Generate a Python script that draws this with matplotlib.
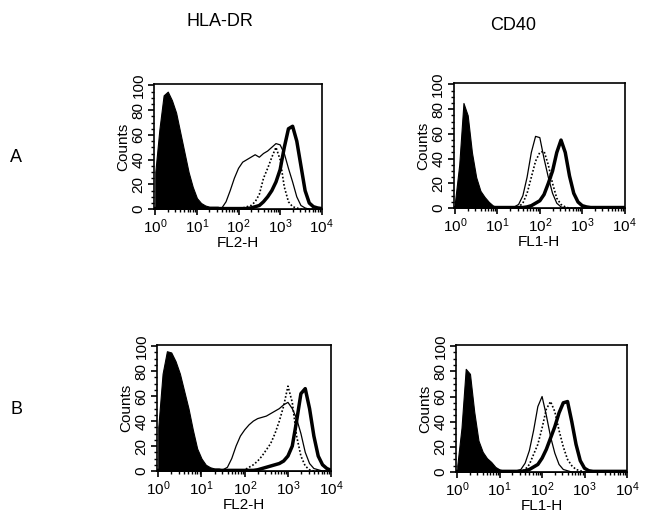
import numpy as np
import matplotlib
matplotlib.use("Agg")
import matplotlib.pyplot as plt
from matplotlib.ticker import MultipleLocator, LogLocator, NullFormatter

plt.rcParams['font.family'] = ['Liberation Sans', 'DejaVu Sans']

# log10 channel positions, 0.1-decade steps from 10^0 to 10^4
log_x = np.round(np.arange(0, 4.01, 0.1), 1)

def curve(points, base=0.0):
    """Build a series of 41 values from (log10 position: count) readings."""
    arr = np.full(len(log_x), base)
    for k, v in points.items():
        arr[int(round(k * 10))] = v
    return arr

# ---------- Row A, HLA-DR (FL2-H) ----------
A_hla_filled = curve({0.0: 30, 0.1: 65, 0.2: 92, 0.3: 95, 0.4: 88, 0.5: 78, 0.6: 62,
                      0.7: 46, 0.8: 30, 0.9: 18, 1.0: 9, 1.1: 5, 1.2: 3, 1.3: 2, 1.4: 2,
                      1.5: 2, 1.6: 1, 1.7: 1, 1.8: 1, 1.9: 1, 2.0: 1})
A_hla_thin = curve({1.6: 1, 1.7: 6, 1.8: 15, 1.9: 25, 2.0: 33, 2.1: 38, 2.2: 40, 2.3: 42,
                    2.4: 44, 2.5: 42, 2.6: 45, 2.7: 47, 2.8: 50, 2.9: 53, 3.0: 52, 3.1: 45,
                    3.2: 33, 3.3: 22, 3.4: 10, 3.5: 3, 3.6: 1})
A_hla_dotted = curve({2.0: 1, 2.1: 1, 2.2: 2, 2.3: 3, 2.4: 6, 2.5: 12, 2.6: 25, 2.7: 33,
                      2.8: 42, 2.9: 50, 3.0: 40, 3.1: 18, 3.2: 6, 3.3: 2, 3.4: 1})
A_hla_thick = curve({2.3: 1, 2.4: 2, 2.5: 3, 2.6: 6, 2.7: 10, 2.8: 15, 2.9: 22, 3.0: 32,
                     3.1: 50, 3.2: 65, 3.3: 67, 3.4: 55, 3.5: 35, 3.6: 15, 3.7: 5, 3.8: 2,
                     3.9: 1}, base=0.5)

# ---------- Row A, CD40 (FL1-H) ----------
A_cd40_filled = curve({0.0: 5, 0.1: 35, 0.2: 85, 0.3: 75, 0.4: 45, 0.5: 25, 0.6: 14,
                       0.7: 9, 0.8: 5, 0.9: 2, 1.0: 1, 1.1: 1, 1.2: 1, 1.3: 1, 1.4: 1})
A_cd40_thin = curve({1.4: 1, 1.5: 3, 1.6: 10, 1.7: 25, 1.8: 45, 1.9: 58, 2.0: 57, 2.1: 40,
                     2.2: 25, 2.3: 12, 2.4: 4, 2.5: 1})
A_cd40_dotted = curve({1.5: 1, 1.6: 4, 1.7: 12, 1.8: 25, 1.9: 38, 2.0: 45, 2.1: 46,
                       2.2: 35, 2.3: 20, 2.4: 8, 2.5: 3, 2.6: 1})
A_cd40_thick = curve({1.7: 1, 1.8: 2, 1.9: 4, 2.0: 6, 2.1: 11, 2.2: 20, 2.3: 30, 2.4: 45,
                      2.5: 55, 2.6: 45, 2.7: 26, 2.8: 12, 2.9: 5, 3.0: 2, 3.1: 1}, base=0.5)

# ---------- Row B, HLA-DR (FL2-H) ----------
B_hla_filled = curve({0.0: 35, 0.1: 78, 0.2: 96, 0.3: 95, 0.4: 88, 0.5: 78, 0.6: 64,
                      0.7: 50, 0.8: 33, 0.9: 18, 1.0: 10, 1.1: 5, 1.2: 3, 1.3: 2, 1.4: 2,
                      1.5: 1, 1.6: 1, 1.7: 1, 1.8: 1})
B_hla_thin = curve({1.5: 1, 1.6: 3, 1.7: 10, 1.8: 20, 1.9: 28, 2.0: 33, 2.1: 37, 2.2: 40,
                    2.3: 42, 2.4: 43, 2.5: 44, 2.6: 46, 2.7: 48, 2.8: 50, 2.9: 53, 3.0: 55,
                    3.1: 50, 3.2: 42, 3.3: 30, 3.4: 15, 3.5: 6, 3.6: 2, 3.7: 1})
B_hla_dotted = curve({2.0: 1, 2.1: 3, 2.2: 5, 2.3: 8, 2.4: 12, 2.5: 17, 2.6: 22, 2.7: 30,
                      2.8: 40, 2.9: 52, 3.0: 68, 3.1: 55, 3.2: 28, 3.3: 12, 3.4: 4, 3.5: 1})
B_hla_thick = curve({2.3: 1, 2.4: 2, 2.5: 3, 2.6: 4, 2.7: 5, 2.8: 6, 2.9: 8, 3.0: 12,
                     3.1: 20, 3.2: 40, 3.3: 62, 3.4: 66, 3.5: 50, 3.6: 28, 3.7: 12, 3.8: 5,
                     3.9: 2}, base=0.5)

# ---------- Row B, CD40 (FL1-H) ----------
B_cd40_filled = curve({0.0: 5, 0.1: 35, 0.2: 82, 0.3: 78, 0.4: 48, 0.5: 25, 0.6: 16,
                       0.7: 11, 0.8: 8, 0.9: 4, 1.0: 2, 1.1: 1, 1.2: 1, 1.3: 1, 1.4: 1})
B_cd40_thin = curve({1.4: 1, 1.5: 2, 1.6: 7, 1.7: 17, 1.8: 33, 1.9: 52, 2.0: 60, 2.1: 45,
                     2.2: 28, 2.3: 15, 2.4: 6, 2.5: 2, 2.6: 1})
B_cd40_dotted = curve({1.6: 2, 1.7: 6, 1.8: 14, 1.9: 22, 2.0: 35, 2.1: 50, 2.2: 56,
                       2.3: 48, 2.4: 33, 2.5: 20, 2.6: 10, 2.7: 5, 2.8: 2, 2.9: 1})
B_cd40_thick = curve({1.6: 1, 1.7: 2, 1.8: 4, 1.9: 6, 2.0: 11, 2.1: 18, 2.2: 27, 2.3: 36,
                      2.4: 47, 2.5: 55, 2.6: 56, 2.7: 40, 2.8: 22, 2.9: 9, 3.0: 3, 3.1: 1},
                     base=0.5)

column_titles = ["HLA-DR", "CD40"]
row_labels = ["A", "B"]
x_labels = ["FL2-H", "FL1-H"]
y_label = "Counts"
y_ticks = [0, 20, 40, 60, 80, 100]

panels = [
    # (axes rect [l, b, w, h], series, xlabel)
    ([0.237, 0.600, 0.258, 0.239], (A_hla_filled, A_hla_thin, A_hla_dotted, A_hla_thick), x_labels[0]),
    ([0.698, 0.602, 0.263, 0.239], (A_cd40_filled, A_cd40_thin, A_cd40_dotted, A_cd40_thick), x_labels[1]),
    ([0.2415, 0.0994, 0.268, 0.241], (B_hla_filled, B_hla_thin, B_hla_dotted, B_hla_thick), x_labels[0]),
    ([0.7015, 0.0975, 0.263, 0.243], (B_cd40_filled, B_cd40_thin, B_cd40_dotted, B_cd40_thick), x_labels[1]),
]

fig = plt.figure(figsize=(6.5, 5.23), dpi=100)
xv = 10 ** log_x

for rect, (filled, thin, dotted, thick), xl in panels:
    ax = fig.add_axes(rect)
    ax.fill_between(xv, 0, filled, color="black", linewidth=0.8)
    ax.plot(xv, thin, color="black", linewidth=0.9)
    ax.plot(xv, dotted, color="black", linewidth=1.2, linestyle=(0, (1, 1.2)))
    ax.plot(xv, thick, color="black", linewidth=2.5)
    ax.set_xscale("log")
    ax.set_xlim(10 ** -0.03, 10 ** 4.0)
    ax.set_ylim(0, 101)
    ax.xaxis.set_major_locator(LogLocator(base=10, numticks=10))
    ax.xaxis.set_minor_locator(LogLocator(base=10, subs=np.arange(2, 10), numticks=10))
    ax.xaxis.set_minor_formatter(NullFormatter())
    ax.set_yticks(y_ticks)
    ax.yaxis.set_minor_locator(MultipleLocator(5))
    ax.tick_params(axis="both", which="major", direction="out", length=4, width=1.2,
                   labelsize=11, pad=2)
    ax.tick_params(axis="both", which="minor", direction="out", length=2.5, width=1.0)
    for lab in ax.get_yticklabels():
        lab.set_rotation(90)
        lab.set_va("center")
    ax.set_xlabel(xl, fontsize=11, labelpad=0)
    ax.set_ylabel(y_label, fontsize=11, labelpad=1)
    for s in ax.spines.values():
        s.set_linewidth(1.2)

fig.text(220 / 650, 1 - 21 / 523, column_titles[0], ha="center", va="center", fontsize=13)
fig.text(513 / 650, 1 - 25 / 523, column_titles[1], ha="center", va="center", fontsize=13)
fig.text(16 / 650, 1 - 158 / 523, row_labels[0], ha="center", va="center", fontsize=13)
fig.text(16 / 650, 1 - 410 / 523, row_labels[1], ha="center", va="center", fontsize=13)

fig.savefig("out.png", dpi=100)
